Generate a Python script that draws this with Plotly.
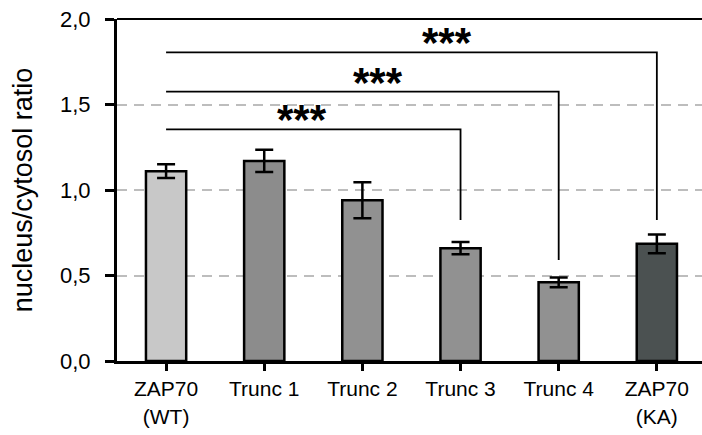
import plotly.graph_objects as go

categories = ["ZAP70<br>(WT)", "Trunc 1", "Trunc 2", "Trunc 3", "Trunc 4", "ZAP70<br>(KA)"]
values = [1.11, 1.17, 0.94, 0.66, 0.46, 0.685]
errors = [0.04, 0.065, 0.105, 0.036, 0.028, 0.055]
bar_colors = ["#c8c8c8", "#8c8c8c", "#919191", "#919191", "#919191", "#4b5151"]

# significance brackets: from category 0 to target category
bracket_targets = [3, 4, 5]
bracket_heights = [1.355, 1.575, 1.805]
bracket_ends = [0.825, 0.59, 0.825]
star_x = [1.385, 2.16, 2.862]
star_labels = ["***", "***", "***"]

xs = list(range(len(categories)))

fig = go.Figure()
fig.add_trace(go.Bar(
    x=xs, y=values, width=0.41,
    marker=dict(color=bar_colors, line=dict(color="black", width=2.5)),
    error_y=dict(type="data", array=errors, visible=True, color="black",
                 thickness=2.5, width=9),
    showlegend=False,
))

for t, h, e in zip(bracket_targets, bracket_heights, bracket_ends):
    fig.add_trace(go.Scatter(
        x=[xs[0], xs[t], xs[t]], y=[h, h, e], mode="lines",
        line=dict(color="black", width=1.8), showlegend=False, hoverinfo="skip",
    ))

for sx, h, lab in zip(star_x, bracket_heights, star_labels):
    fig.add_annotation(x=sx, y=h, text="<b>" + lab + "</b>", showarrow=False,
                       yanchor="bottom", yshift=-16,
                       font=dict(family="Liberation Sans, Arial", size=42, color="black"))

fig.add_shape(type="line", xref="paper", yref="paper", x0=0, x1=1, y0=1, y1=1,
              line=dict(color="black", width=2))

fig.update_layout(
    width=702, height=435,
    margin=dict(l=117, r=0, t=19, b=74),
    plot_bgcolor="white", paper_bgcolor="white",
    separators=", ",
    font=dict(family="Liberation Sans, Arial", color="black"),
    xaxis=dict(
        range=[-0.5, 5.46], tickmode="array", tickvals=xs, ticktext=categories,
        tickson="boundaries", ticks="outside", ticklen=7, tickwidth=2.5, tickcolor="black",
        showline=True, linecolor="black", linewidth=3, showgrid=False, zeroline=False,
        tickfont=dict(size=21, color="black"),
    ),
    yaxis=dict(
        range=[0, 2.0], tickvals=[0, 0.5, 1.0, 1.5, 2.0], tickformat=".1f",
        ticks="outside", ticklen=9, tickwidth=2.5, tickcolor="black",
        showline=True, linecolor="black", linewidth=3,
        showgrid=True, gridcolor="#bdbdbd", gridwidth=1.6, griddash="10px,7px",
        zeroline=False, ticklabelstandoff=10,
        tickfont=dict(size=22, color="black"),
        title=dict(text="nucleus/cytosol ratio", font=dict(size=27, color="black"), standoff=20),
    ),
)

fig.write_html("out.html")
